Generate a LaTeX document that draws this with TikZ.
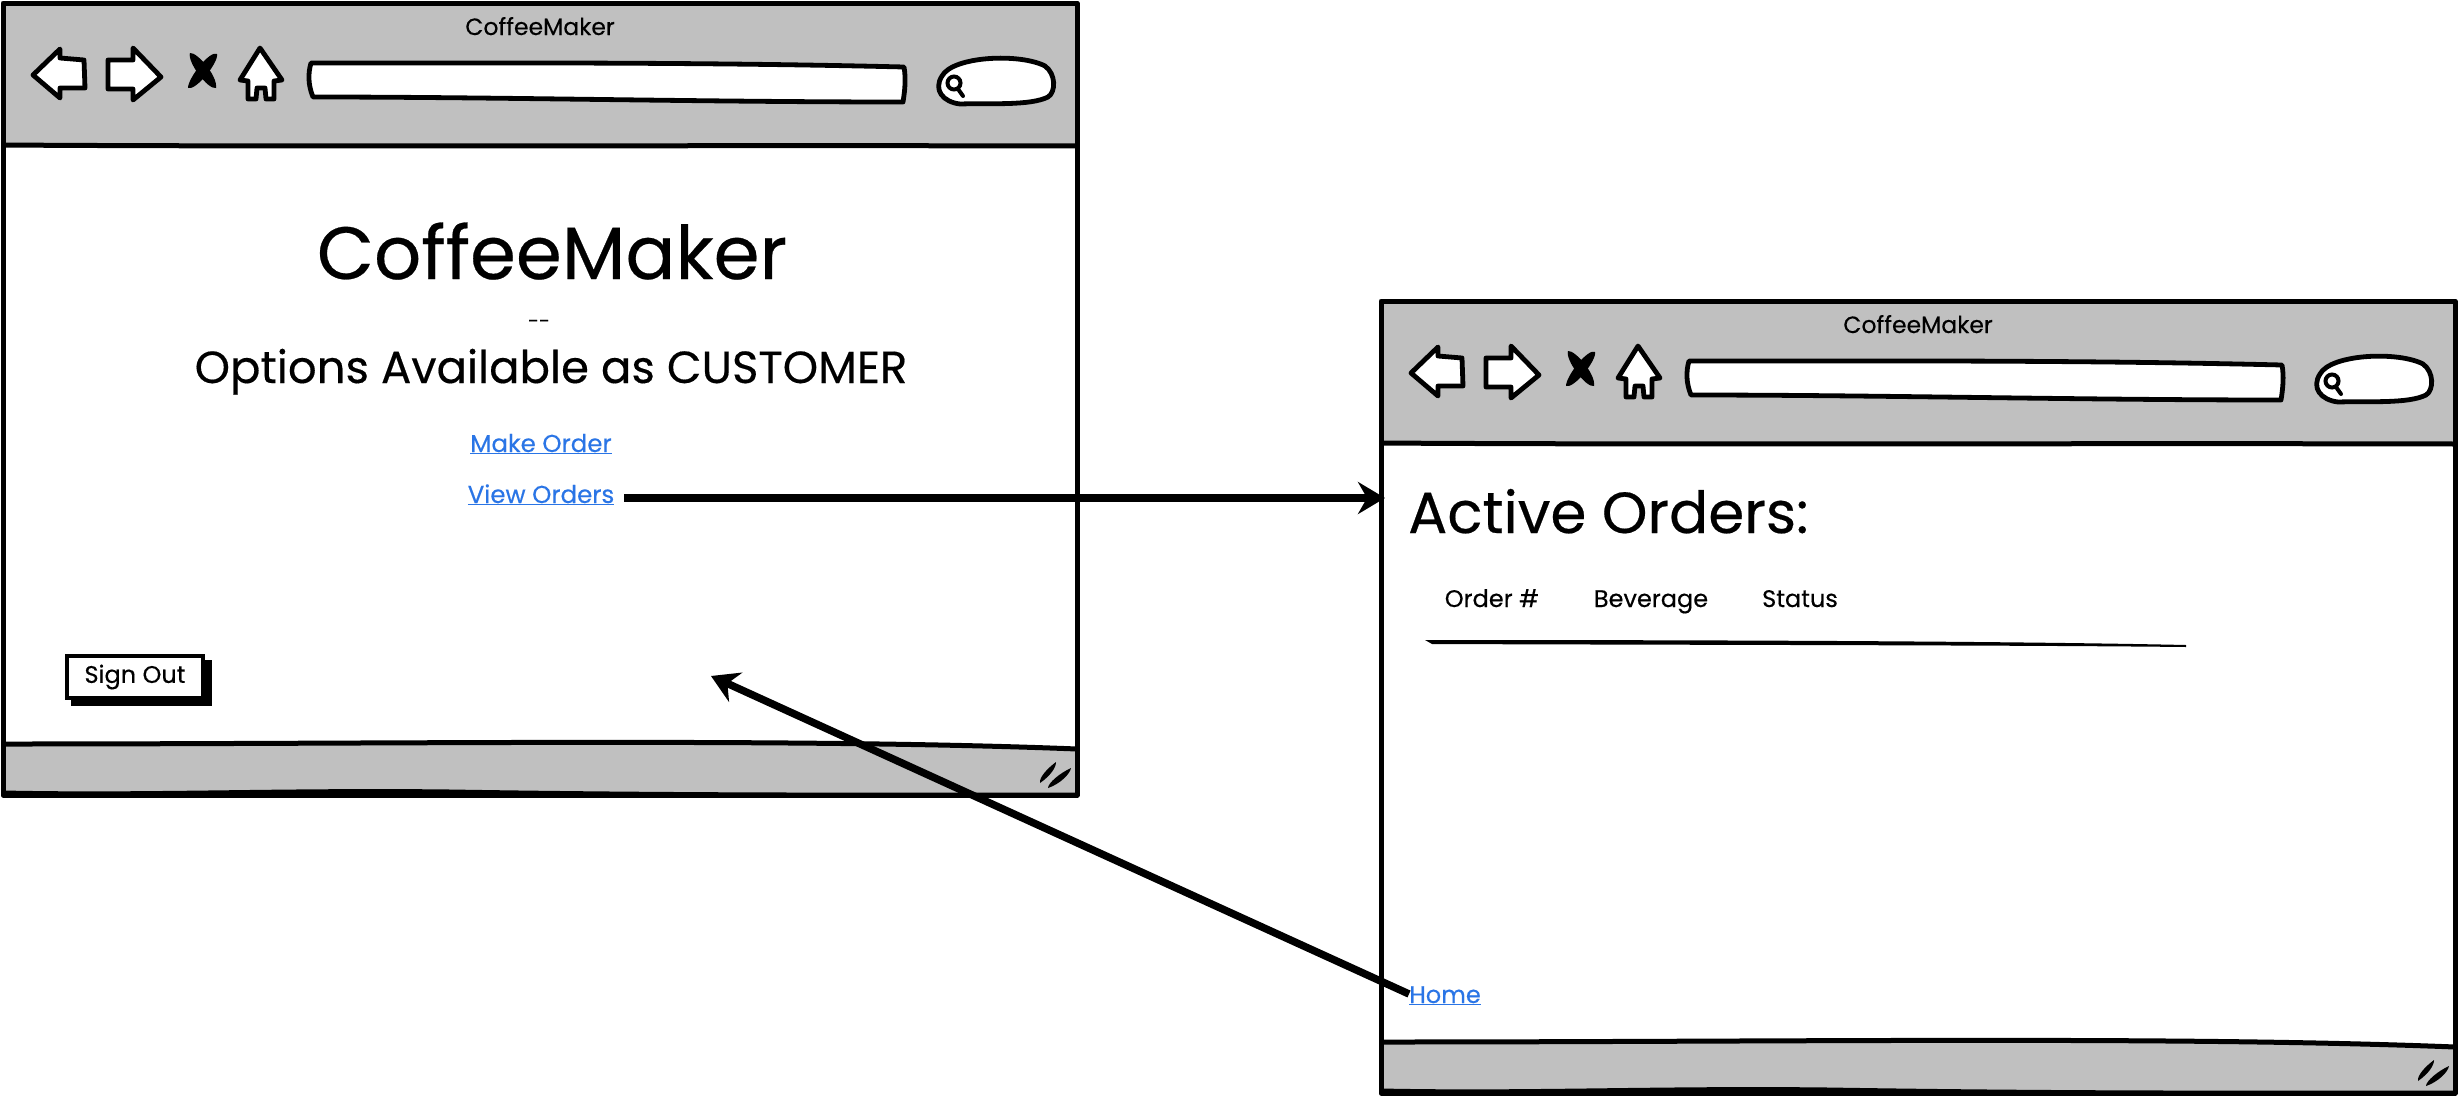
\documentclass[tikz,border=0pt]{standalone}
\usepackage{fontspec}
\setmainfont{Poppins}[FakeBold=0.35,Ligatures=NoCommon]
\usetikzlibrary{arrows.meta}
\definecolor{chrome}{HTML}{C0C0C0}
\definecolor{linkblue}{HTML}{2A75E6}
\tikzset{
  frame/.style={draw=black,line width=5pt,line join=round},
  icon/.style={draw=black,fill=white,line width=4.8pt,line join=round},
  txt/.style={inner sep=0pt,text=black,anchor=base},
  link/.style={inner sep=0pt,text=linkblue,anchor=base},
  conn/.style={draw=black,line width=7.5pt,-{Stealth[length=27pt,width=32pt,inset=9pt]}},
}
\newcommand{\fs}[1]{\fontsize{#1}{#1}\selectfont}
\newcommand{\ulink}[1]{\underline{#1}}
\newcommand{\browserwin}[3]{%
\begin{scope}[shift={(#2,#3)}]
  \fill[white] (3,3) rectangle (1077,795);
  \fill[chrome] (3,3) rectangle (1077,146);
  \fill[chrome] (3,744) .. controls (400,744) and (800,738) .. (1077,749) -- (1077,795) -- (3,795) -- cycle;
  \draw[frame] (3,3) -- (1077,3) -- (1077,795) -- (3,795) -- cycle;
  \draw[frame] (3,145) .. controls (300,147) and (700,145) .. (1077,146);
  \draw[frame] (3,744) .. controls (400,744) and (800,738) .. (1077,749);
  \draw[frame] (3,793) .. controls (150,796) and (280,790) .. (450,792) .. controls (700,796) and (900,795) .. (1077,795);
  \node[txt,font=\fs{23.5}] (#1title) at (540,35) {CoffeeMaker};
  % back
  \draw[icon] (33,75) -- (60,49) -- (60,58) -- (84,60) -- (85,88) -- (60,88) -- (60,98) -- cycle;
  % forward
  \draw[icon] (161,77) -- (133,48) -- (133,60) -- (108,60) -- (108,89) -- (133,89) -- (133,100) -- cycle;
  % stop
  \fill[black] (190,53) .. controls (197,52) and (218,76) .. (216,88) .. controls (208,90) and (187,62) .. cycle;
  \fill[black] (217,54) .. controls (210,50) and (188,78) .. (188,88) .. controls (196,91) and (219,62) .. cycle;
  % home
  \draw[icon] (260,48) -- (282,80) -- (274,81) -- (274,99) -- (266,99) -- (265,88) -- (257,88) -- (256,99) -- (248,99) -- (248,81) -- (240,80) -- cycle;
  % address bar
  \draw[icon] (311,63) .. controls (500,63) and (700,62) .. (904,67) .. controls (906,78) and (905,90) .. (903,102) .. controls (700,102) and (500,97) .. (313,97) .. controls (308,85) and (308,73) .. (311,63) -- cycle;
  % search
  \draw[icon] (942,76) .. controls (953,56) and (1020,53) .. (1045,66) .. controls (1056,74) and (1056,92) .. (1048,97) .. controls (1030,106) and (990,103) .. (960,104) .. controls (943,102) and (933,90) .. (942,76) -- cycle;
  \draw[draw=black,line width=4pt,line cap=round] (954,83) circle (6.5) (958,89) -- (963,96);
  % grip
  \fill[black] (1056,762) .. controls (1056,768) and (1050,776) .. (1040,783) .. controls (1039,777) and (1048,768) .. cycle;
  \fill[black] (1071,768) .. controls (1070,774) and (1060,784) .. (1048,788) .. controls (1048,783) and (1060,773) .. cycle;
\end{scope}}
\begin{document}
\begin{tikzpicture}[x=1pt,y=-1pt]
\useasboundingbox (0,0) rectangle (2458,1098);
\fill[white] (0,0) rectangle (2458,1098);
\browserwin{a}{0}{0}
\browserwin{b}{1378}{298}
% window 1
\node[txt,font=\fs{74}] (apptitle) at (552,279) {CoffeeMaker};
\node[txt,font=\fs{20}] (dashes) at (539,328) {-{}-};
\node[txt,font=\fs{45}] (options) at (551,383) {Options Available as CUSTOMER};
\node[link,font=\fs{24.5}] (mo) at (541,452) {\ulink{Make Order}};
\node[link,font=\fs{24.5}] (vo) at (541,503) {\ulink{View Orders}};
\draw[black,fill=black,line width=1pt] (71,660) rectangle (211,705);
\node[draw=black,fill=white,line width=4pt,minimum width=136pt,minimum height=42pt,inner sep=0pt,font=\fs{24}] (signout) at (135,677) {Sign Out};
% window 2
\node[txt,font=\fs{58},anchor=base west] (active) at (1408,533) {Active Orders:};
\node[txt,font=\fs{24}] (th1) at (1492,607) {Order \#};
\node[txt,font=\fs{24}] (th2) at (1651,607) {Beverage};
\node[txt,font=\fs{24}] (th3) at (1800,607) {Status};
\fill[black] (1425,640) .. controls (1700,640) and (2000,641) .. (2186,645) -- (2186,647) .. controls (2000,645) and (1700,645) .. (1432,644) -- cycle;
\node[link,font=\fs{24}] (home) at (1445,1003) {\ulink{Home}};
% connectors
\coordinate (winb) at (1385,498);
\coordinate (wina) at (711,676);
\draw[conn] ([shift={(10,-5)}]vo.base east) -- (winb);
\draw[conn] ([shift={(0,-9)}]home.base west) -- (wina);
\end{tikzpicture}
\end{document}
